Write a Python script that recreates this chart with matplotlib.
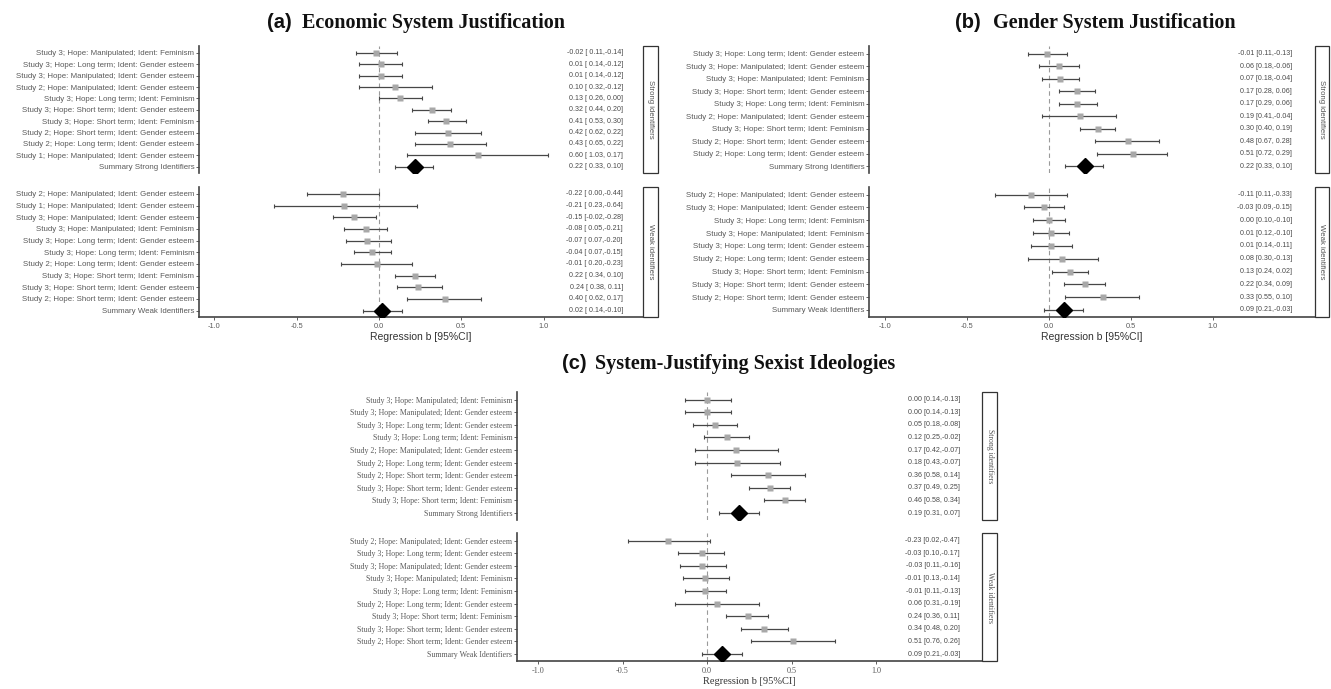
import numpy as np
import matplotlib.pyplot as plt
from matplotlib.patches import Rectangle

W, H = 1331, 689

# ---- (a) Economic System Justification ----
a_strong_labels = ["Study 3; Hope: Manipulated; Ident: Feminism",
                   "Study 3; Hope: Long term; Ident: Gender esteem",
                   "Study 3; Hope: Manipulated; Ident: Gender esteem",
                   "Study 2; Hope: Manipulated; Ident: Gender esteem",
                   "Study 3; Hope: Long term; Ident: Feminism",
                   "Study 3; Hope: Short term; Ident: Gender esteem",
                   "Study 3; Hope: Short term; Ident: Feminism",
                   "Study 2; Hope: Short term; Ident: Gender esteem",
                   "Study 2; Hope: Long term; Ident: Gender esteem",
                   "Study 1; Hope: Manipulated; Ident: Gender esteem",
                   "Summary Strong Identifiers"]
a_strong_b = [-0.02, 0.01, 0.01, 0.10, 0.13, 0.32, 0.41, 0.42, 0.43, 0.60, 0.22]
a_strong_hi = [0.11, 0.14, 0.14, 0.32, 0.26, 0.44, 0.53, 0.62, 0.65, 1.03, 0.33]
a_strong_lo = [-0.14, -0.12, -0.12, -0.12, 0.00, 0.20, 0.30, 0.22, 0.22, 0.17, 0.10]

a_weak_labels = ["Study 2; Hope: Manipulated; Ident: Gender esteem",
                 "Study 1; Hope: Manipulated; Ident: Gender esteem",
                 "Study 3; Hope: Manipulated; Ident: Gender esteem",
                 "Study 3; Hope: Manipulated; Ident: Feminism",
                 "Study 3; Hope: Long term; Ident: Gender esteem",
                 "Study 3; Hope: Long term; Ident: Feminism",
                 "Study 2; Hope: Long term; Ident: Gender esteem",
                 "Study 3; Hope: Short term; Ident: Feminism",
                 "Study 3; Hope: Short term; Ident: Gender esteem",
                 "Study 2; Hope: Short term; Ident: Gender esteem",
                 "Summary Weak Identifiers"]
a_weak_b = [-0.22, -0.21, -0.15, -0.08, -0.07, -0.04, -0.01, 0.22, 0.24, 0.40, 0.02]
a_weak_hi = [0.00, 0.23, -0.02, 0.05, 0.07, 0.07, 0.20, 0.34, 0.38, 0.62, 0.14]
a_weak_lo = [-0.44, -0.64, -0.28, -0.21, -0.20, -0.15, -0.23, 0.10, 0.11, 0.17, -0.10]

# ---- (b) Gender System Justification ----
b_strong_labels = ["Study 3; Hope: Long term; Ident: Gender esteem",
                   "Study 3; Hope: Manipulated; Ident: Gender esteem",
                   "Study 3; Hope: Manipulated; Ident: Feminism",
                   "Study 3; Hope: Short term; Ident: Gender esteem",
                   "Study 3; Hope: Long term; Ident: Feminism",
                   "Study 2; Hope: Manipulated; Ident: Gender esteem",
                   "Study 3; Hope: Short term; Ident: Feminism",
                   "Study 2; Hope: Short term; Ident: Gender esteem",
                   "Study 2; Hope: Long term; Ident: Gender esteem",
                   "Summary Strong Identifiers"]
b_strong_b = [-0.01, 0.06, 0.07, 0.17, 0.17, 0.19, 0.30, 0.48, 0.51, 0.22]
b_strong_hi = [0.11, 0.18, 0.18, 0.28, 0.29, 0.41, 0.40, 0.67, 0.72, 0.33]
b_strong_lo = [-0.13, -0.06, -0.04, 0.06, 0.06, -0.04, 0.19, 0.28, 0.29, 0.10]

b_weak_labels = ["Study 2; Hope: Manipulated; Ident: Gender esteem",
                 "Study 3; Hope: Manipulated; Ident: Gender esteem",
                 "Study 3; Hope: Long term; Ident: Feminism",
                 "Study 3; Hope: Manipulated; Ident: Feminism",
                 "Study 3; Hope: Long term; Ident: Gender esteem",
                 "Study 2; Hope: Long term; Ident: Gender esteem",
                 "Study 3; Hope: Short term; Ident: Feminism",
                 "Study 3; Hope: Short term; Ident: Gender esteem",
                 "Study 2; Hope: Short term; Ident: Gender esteem",
                 "Summary Weak Identifiers"]
b_weak_b = [-0.11, -0.03, 0.00, 0.01, 0.01, 0.08, 0.13, 0.22, 0.33, 0.09]
b_weak_hi = [0.11, 0.09, 0.10, 0.12, 0.14, 0.30, 0.24, 0.34, 0.55, 0.21]
b_weak_lo = [-0.33, -0.15, -0.10, -0.10, -0.11, -0.13, 0.02, 0.09, 0.10, -0.03]

# ---- (c) System-Justifying Sexist Ideologies ----
c_strong_labels = ["Study 3; Hope: Manipulated; Ident: Feminism",
                   "Study 3; Hope: Manipulated; Ident: Gender esteem",
                   "Study 3; Hope: Long term; Ident: Gender esteem",
                   "Study 3; Hope: Long term; Ident: Feminism",
                   "Study 2; Hope: Manipulated; Ident: Gender esteem",
                   "Study 2; Hope: Long term; Ident: Gender esteem",
                   "Study 2; Hope: Short term; Ident: Gender esteem",
                   "Study 3; Hope: Short term; Ident: Gender esteem",
                   "Study 3; Hope: Short term; Ident: Feminism",
                   "Summary Strong Identifiers"]
c_strong_b = [0.00, 0.00, 0.05, 0.12, 0.17, 0.18, 0.36, 0.37, 0.46, 0.19]
c_strong_hi = [0.14, 0.14, 0.18, 0.25, 0.42, 0.43, 0.58, 0.49, 0.58, 0.31]
c_strong_lo = [-0.13, -0.13, -0.08, -0.02, -0.07, -0.07, 0.14, 0.25, 0.34, 0.07]

c_weak_labels = ["Study 2; Hope: Manipulated; Ident: Gender esteem",
                 "Study 3; Hope: Long term; Ident: Gender esteem",
                 "Study 3; Hope: Manipulated; Ident: Gender esteem",
                 "Study 3; Hope: Manipulated; Ident: Feminism",
                 "Study 3; Hope: Long term; Ident: Feminism",
                 "Study 2; Hope: Long term; Ident: Gender esteem",
                 "Study 3; Hope: Short term; Ident: Feminism",
                 "Study 3; Hope: Short term; Ident: Gender esteem",
                 "Study 2; Hope: Short term; Ident: Gender esteem",
                 "Summary Weak Identifiers"]
c_weak_b = [-0.23, -0.03, -0.03, -0.01, -0.01, 0.06, 0.24, 0.34, 0.51, 0.09]
c_weak_hi = [0.02, 0.10, 0.11, 0.13, 0.11, 0.31, 0.36, 0.48, 0.76, 0.21]
c_weak_lo = [-0.47, -0.17, -0.16, -0.14, -0.13, -0.19, 0.11, 0.20, 0.26, -0.03]

x_ticks = [-1.0, -0.5, 0.0, 0.5, 1.0]
x_ticklabels = ["-1.0", "-0.5", "0.0", "0.5", "1.0"]

SANS = "Liberation Sans"
SERIF = "Liberation Serif"


def box(x0, y0, x1, y1):
    # pixel box (top-left origin) -> figure fraction rect
    return [x0 / W, 1 - y1 / H, (x1 - x0) / W, (y1 - y0) / H]


def facet(fig, rect, labels, b, hi, lo, zero_px, ppu, spine_px, strip_px, text_px,
          fmt, font, bottom, strip_rect, strip_text):
    ax = fig.add_axes(rect)
    n = len(labels)
    y = np.arange(n)
    b = np.array(b); hi = np.array(hi); lo = np.array(lo)
    tsize = 5.9 if font == SERIF else 5.3

    ax.axvline(0, color="#9a9a9a", ls=(0, (4, 3)), lw=0.8, zorder=0)
    ax.errorbar(b, y, xerr=[b - lo, hi - b], fmt="none", ecolor="#474747",
                elinewidth=0.9, capsize=1.4, capthick=0.8, zorder=2)
    ax.plot(b[:-1], y[:-1], "s", ms=5, color="#a8a8a8", mec="none", zorder=3)
    ax.plot(b[-1:], y[-1:], "D", ms=7.8, color="black", zorder=4)

    for yi, bi, h, l in zip(y, b, hi, lo):
        ax.text((text_px - zero_px) / ppu, yi, fmt(bi, h, l), ha="right", va="center",
                fontsize=5.1, color="#4a4a4a", family=SANS)

    ax.set_xlim((spine_px - zero_px) / ppu, (strip_px - zero_px) / ppu)
    ax.set_ylim(n - 1 + 0.55, -0.6)
    ax.set_yticks(y)
    ax.set_yticklabels(labels, fontsize=5.7, color="#5a5a5a", family=font)
    ax.tick_params(axis="y", length=2, width=0.6, color="#444444", pad=1.5)

    for s in ["top", "right"]:
        ax.spines[s].set_visible(False)
    ax.spines["left"].set_color("#444444")
    ax.spines["left"].set_linewidth(1.2)
    if bottom:
        ax.spines["bottom"].set_color("#444444")
        ax.spines["bottom"].set_linewidth(1.2)
        ax.set_xticks(x_ticks)
        ax.set_xticklabels(x_ticklabels, fontsize=tsize, color="#5a5a5a", family=font)
        ax.tick_params(axis="x", length=2, width=0.6, color="#444444", pad=2)
        ax.set_xlabel("Regression b [95%CI]", fontsize=7.5, color="#333333",
                      family=font, labelpad=1.5)
    else:
        ax.spines["bottom"].set_visible(False)
        ax.set_xticks([])

    sax = fig.add_axes(strip_rect)
    sax.set_xlim(0, 1); sax.set_ylim(0, 1)
    sax.axis("off")
    sax.add_patch(Rectangle((0, 0), 1, 1, fill=True, fc="white", ec="#333333",
                            lw=0.9, transform=sax.transAxes, clip_on=False))
    sax.text(0.5, 0.5, strip_text, rotation=-90, ha="center", va="center",
             fontsize=5.6, color="#555555", family=font)
    return ax


def fmt_a(b, h, l):
    return f"{b:.2f} [{h:5.2f},{l:5.2f}]"


def fmt_bc(b, h, l):
    return f"{b:.2f} [{h:.2f},{l:5.2f}]"


fig = plt.figure(figsize=(W / 100, H / 100), dpi=100)

panels = [
    dict(title="(a)", name="Economic System Justification", tx=267, nx=302, ty=28,
         spine=199, strip0=643, strip1=658, zero=379, ppu=164.5, text=623,
         y_strong=(46, 173), y_weak=(187, 317), fmt=fmt_a, font=SANS,
         strong=(a_strong_labels, a_strong_b, a_strong_hi, a_strong_lo),
         weak=(a_weak_labels, a_weak_b, a_weak_hi, a_weak_lo)),
    dict(title="(b)", name="Gender System Justification", tx=955, nx=993, ty=28,
         spine=869, strip0=1315, strip1=1329, zero=1049, ppu=164, text=1292,
         y_strong=(46, 173), y_weak=(187, 317), fmt=fmt_bc, font=SANS,
         strong=(b_strong_labels, b_strong_b, b_strong_hi, b_strong_lo),
         weak=(b_weak_labels, b_weak_b, b_weak_hi, b_weak_lo)),
    dict(title="(c)", name="System-Justifying Sexist Ideologies", tx=562, nx=595, ty=369,
         spine=517, strip0=982, strip1=997, zero=707, ppu=169, text=960,
         y_strong=(392, 520), y_weak=(533, 661), fmt=fmt_bc, font=SERIF,
         strong=(c_strong_labels, c_strong_b, c_strong_hi, c_strong_lo),
         weak=(c_weak_labels, c_weak_b, c_weak_hi, c_weak_lo)),
]

for p in panels:
    for key, ykey, label, bottom in [("strong", "y_strong", "Strong identifiers", False),
                                     ("weak", "y_weak", "Weak identifiers", True)]:
        y0, y1 = p[ykey]
        labs, bb, hh, ll = p[key]
        facet(fig, box(p["spine"], y0, p["strip0"], y1), labs, bb, hh, ll,
              p["zero"], p["ppu"], p["spine"], p["strip0"], p["text"],
              p["fmt"], p["font"], bottom,
              box(p["strip0"], y0, p["strip1"], y1), label)
    fig.text(p["tx"] / W, 1 - p["ty"] / H, p["title"], fontsize=14.5, weight="bold",
             family=SANS, ha="left", va="baseline", color="#111111")
    fig.text(p["nx"] / W, 1 - p["ty"] / H, p["name"], fontsize=14.5, weight="bold",
             family=SERIF, ha="left", va="baseline", color="#111111")

fig.savefig("out.png", dpi=100)
